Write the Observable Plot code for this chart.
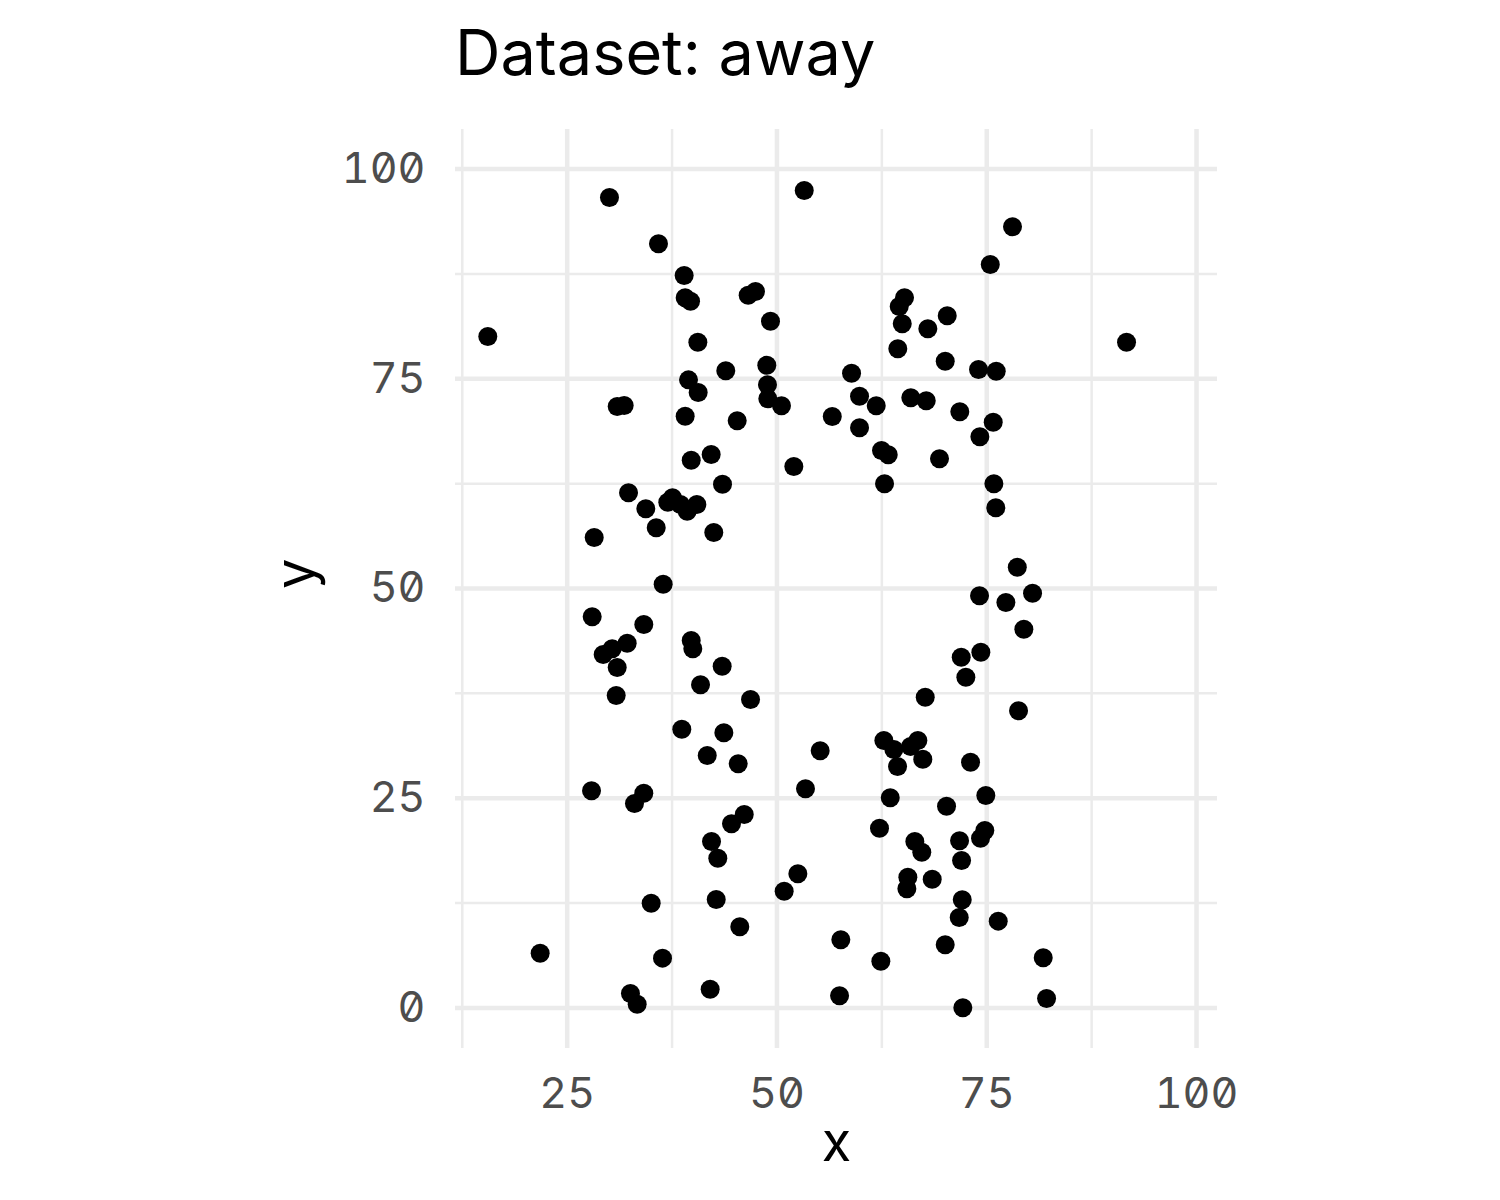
<!DOCTYPE html>
<html><head><meta charset="utf-8">
<script src="https://cdn.jsdelivr.net/npm/d3@7"></script>
<script src="https://cdn.jsdelivr.net/npm/@observablehq/plot@0.6"></script>
<style>
body{margin:0;background:#fff;}
#wrap{position:relative;width:1500px;height:1200px;}
#title{position:absolute;left:455px;top:21px;z-index:2;font-family:Inter,"Noto Sans",sans-serif;font-size:63px;line-height:1;color:#000;white-space:nowrap;}
#wrap svg{position:absolute;left:0;top:0;z-index:1;}
#wrap svg text{font-family:Inter,"Noto Sans",sans-serif;font-variant-numeric:slashed-zero tabular-nums;font-feature-settings:"zero" 1,"tnum" 1;}
</style></head><body><div id="wrap"><div id="title">Dataset: away</div></div>
<script>
const xValues = [30.04,53.25,35.88,38.94,39.06,39.70,46.57,47.44,49.23,15.54,40.57,43.90,48.79,39.46,40.61,48.87,48.91,50.54,30.96,31.79,39.06,45.26,56.59,
78.07,75.42,65.20,64.57,70.29,64.93,67.98,64.40,91.66,70.05,74.02,76.13,58.89,59.84,61.83,65.95,67.79,71.79,59.84,75.77,74.18,
39.78,42.16,52.01,43.51,32.31,36.99,37.55,38.50,39.30,40.45,34.37,35.61,28.22,42.47,36.44,27.98,34.13,32.15,30.36,29.29,30.96,39.78,39.97,43.47,40.89,30.84,46.85,38.66,43.67,
62.46,63.26,69.37,62.82,75.85,76.08,78.64,74.14,77.28,80.46,79.42,74.30,71.96,72.51,67.67,78.79,
41.69,45.38,55.15,27.90,34.13,33.02,53.40,46.10,44.58,42.20,42.95,52.49,50.86,35.01,42.76,45.57,21.78,36.36,32.54,33.34,42.04,
62.74,63.93,65.92,66.79,64.37,67.38,73.07,63.50,74.89,70.21,62.22,66.43,67.26,71.76,74.77,74.26,72.00,65.60,65.48,68.50,72.08,71.72,76.37,57.61,62.38,70.05,81.73,57.46,72.15,82.13];
const yValues = [96.60,97.44,91.09,87.31,84.65,84.24,84.96,85.40,81.86,80.04,79.36,75.95,76.61,74.87,73.36,74.28,72.61,71.78,71.69,71.81,70.54,69.99,70.50,
93.11,88.62,84.65,83.61,82.50,81.55,80.95,78.57,79.36,77.09,76.10,75.90,75.66,72.92,71.78,72.73,72.37,71.06,69.15,69.82,68.08,
65.29,65.97,64.54,62.43,61.41,60.29,60.81,60.01,59.21,60.01,59.50,57.23,56.08,56.67,50.51,46.63,45.71,43.48,42.81,42.13,40.58,43.80,42.81,40.74,38.52,37.25,36.77,33.23,32.80,
66.45,65.94,65.46,62.48,62.48,59.62,52.54,49.13,48.33,49.44,45.15,42.41,41.81,39.43,37.04,35.42,
30.10,29.11,30.66,25.89,25.60,24.37,26.13,23.06,21.95,19.85,17.85,16.00,13.92,12.49,12.93,9.68,6.53,5.94,1.73,0.45,2.24,
31.88,30.81,31.17,31.88,28.78,29.65,29.30,25.05,25.33,24.05,21.43,19.85,18.57,19.93,21.16,20.24,17.58,15.59,14.21,15.35,12.90,10.79,10.35,8.13,5.58,7.53,5.98,1.45,0.02,1.13];
const xMajor = [25, 50, 75, 100];
const xMinor = [12.5, 37.5, 62.5, 87.5];
const yMajor = [0, 25, 50, 75, 100];
const yMinor = [12.5, 37.5, 62.5, 87.5];
const xLabel = "x", yLabel = "y";

const data = xValues.map((x, i) => ({x, y: yValues[i]}));
const grid = "#ebebeb";
const chart = Plot.plot({
  width: 1500, height: 1200,
  marginLeft: 455, marginRight: 283, marginTop: 129, marginBottom: 152,
  x: {domain: [11.69, 102.5]},
  y: {domain: [-4.83, 104.71]},
  style: {fontFamily: "Inter, 'Noto Sans', sans-serif", background: "white"},
  marks: [
    Plot.ruleX(xMinor, {stroke: grid, strokeWidth: 2.5}),
    Plot.ruleY(yMinor, {stroke: grid, strokeWidth: 2.5}),
    Plot.ruleX(xMajor, {stroke: grid, strokeWidth: 4.5}),
    Plot.ruleY(yMajor, {stroke: grid, strokeWidth: 4.5}),
    Plot.axisX({ticks: xMajor, tickSize: 0, tickPadding: 29, fontSize: 43, color: "#4d4d4d", label: null}),
    Plot.axisY({ticks: yMajor, tickSize: 0, tickPadding: 30, fontSize: 43, color: "#4d4d4d", label: null}),
    Plot.dot(data, {x: "x", y: "y", r: 9.5, fill: "black"}),
    Plot.text([xLabel], {frameAnchor: "bottom", dy: 112, fontSize: 54, fill: "black"}),
    Plot.text([yLabel], {frameAnchor: "left", dx: -159, rotate: -90, fontSize: 54, fill: "black"})
  ]
});
document.getElementById("wrap").appendChild(chart);
</script>
</body></html>
